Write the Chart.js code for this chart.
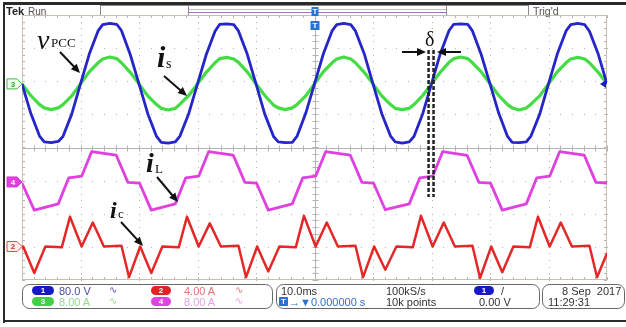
<!DOCTYPE html>
<html>
<head>
<meta charset="utf-8">
<script src="https://cdn.jsdelivr.net/npm/chart.js@4.4.0/dist/chart.umd.min.js"></script>
<style>
  body { margin: 0; background: #fff; }
  #wrap { position: relative; width: 626px; height: 327px; overflow: hidden; background: #fff; }
  #scope { position: absolute; left: 0; top: 0; }
  .t { position: absolute; white-space: nowrap; line-height: 1; }
  .ui { font-family: "Liberation Sans", Arial, sans-serif; font-size: 11px; color: #333; }
  .wave { font-family: "DejaVu Sans", sans-serif; font-size: 10px; }
  .ov { position: absolute; height: 9px; border-radius: 5px; color: #fff; text-align: center;
        font: bold 8px/9px "Liberation Sans", Arial, sans-serif; }
  .serif { font-family: "Liberation Serif", "Times New Roman", serif; color: #111; }
  .bi { font-style: italic; font-weight: bold; }
</style>
</head>
<body>
<div id="wrap">
  <canvas id="scope" width="626" height="327"></canvas>

  <!-- header -->
  <div class="t ui" style="left:6px;top:6px;font-weight:bold;font-size:11px;color:#222">Tek</div>
  <div class="t ui" style="left:28px;top:6.5px;font-size:10px;color:#555">Run</div>
  <div class="t ui" style="left:533px;top:6px;font-size:10.5px;color:#555">Trig'd</div>

  <!-- annotations -->
  <div class="t serif" style="left:37px;top:26px;font-size:28px;font-style:italic">v</div>
  <div class="t serif" style="left:51px;top:36px;font-size:13px">PCC</div>
  <div class="t serif bi" style="left:157px;top:42px;font-size:30px">i</div>
  <div class="t serif" style="left:166px;top:57px;font-size:14px">s</div>
  <div class="t serif bi" style="left:146px;top:149px;font-size:28px">i</div>
  <div class="t serif" style="left:155px;top:162px;font-size:13px">L</div>
  <div class="t serif bi" style="left:110px;top:198px;font-size:24px">i</div>
  <div class="t serif" style="left:118px;top:207px;font-size:13px">c</div>
  <div class="t serif" style="left:425px;top:29px;font-size:20px">δ</div>

  <!-- footer: channel settings -->
  <div class="ov" style="left:32px;top:286px;width:22px;background:#1818c4">1</div>
  <div class="t ui" style="left:59px;top:285.5px;color:#4a4ab0">80.0 V</div>
  <div class="t wave" style="left:109px;top:285px;color:#4a4ab0">∿</div>
  <div class="ov" style="left:151px;top:286px;width:20px;background:#e02424">2</div>
  <div class="t ui" style="left:184px;top:285.5px;color:#e07474">4.00 A</div>
  <div class="t wave" style="left:235px;top:285px;color:#e07474">∿</div>
  <div class="ov" style="left:32px;top:297px;width:22px;background:#44d044">3</div>
  <div class="t ui" style="left:59px;top:296.5px;color:#94d894">8.00 A</div>
  <div class="t wave" style="left:109px;top:296px;color:#94d894">∿</div>
  <div class="ov" style="left:151px;top:297px;width:20px;background:#e044e0">4</div>
  <div class="t ui" style="left:184px;top:296.5px;color:#e0a4e0">8.00 A</div>
  <div class="t wave" style="left:235px;top:296px;color:#e0a4e0">∿</div>

  <!-- footer: timebase / trigger -->
  <div class="t ui" style="left:281px;top:285.5px">10.0ms</div>
  <div class="t ui" style="left:386px;top:285.5px">100kS/s</div>
  <div class="ov" style="left:474px;top:286px;width:20px;background:#1818c4">1</div>
  <div class="t ui" style="left:501px;top:285.5px">/</div>
  <div class="ov" style="left:279px;top:297px;width:9px;border-radius:1px;background:#2a72d0">T</div>
  <div class="t ui" style="left:289px;top:296.5px;color:#2a72d0">→▼0.000000 s</div>
  <div class="t ui" style="left:386px;top:296.5px">10k points</div>
  <div class="t ui" style="left:479px;top:296.5px">0.00 V</div>

  <!-- footer: date -->
  <div class="t ui" style="left:562px;top:285.5px">8 Sep&nbsp; 2017</div>
  <div class="t ui" style="left:548px;top:296.5px">11:29:31</div>
</div>

<script>
// time axis, ms (10 ms/div, trigger at centre)
const timeMs = [
  -50,-48.5,-47,-46.2,-45,-43.8,-43,-41.5,
  -40,-38.5,-37,-36.2,-35,-33.8,-33,-31.5,
  -30,-28.5,-27,-26.2,-25,-23.8,-23,-21.5,
  -20,-18.5,-17,-16.2,-15,-13.8,-13,-11.5,
  -10,-8.5,-7,-6.2,-5,-3.8,-3,-1.5,
  0,1.5,3,3.8,5,6.2,7,8.5,
  10,11.5,13,13.8,15,16.2,17,18.5,
  20,21.5,23,23.8,25,26.2,27,28.5,
  30,31.5,33,33.8,35,36.2,37,38.5,
  40,41.5,43,43.8,45,46.2,47,48.5,
  50];

// CH1 v_PCC, volts
const vPcc = [
  0,-71,-126,-140,-142,-139,-127,-73,
  0,72,128,143,146,144,129,71,
  0,-72,-127,-141,-143,-140,-126,-72,
  0,71,127,144,145,143,128,72,
  0,-73,-127,-140,-142,-141,-127,-71,
  0,72,128,143,146,143,128,73,
  0,-72,-126,-140,-143,-140,-127,-72,
  0,73,129,144,145,144,128,71,
  0,-71,-127,-141,-142,-140,-126,-73,
  0,72,128,143,146,143,127,72,
  0];

// CH3 i_s, amps
const iS = [
  0,-2.8,-5.0,-5.8,-6.2,-5.8,-5.0,-2.9,
  0,2.9,5.1,6.0,6.5,6.1,5.1,2.8,
  0,-2.9,-5.0,-5.9,-6.3,-5.9,-4.9,-2.8,
  0,2.8,5.1,6.1,6.4,6.0,5.2,2.9,
  0,-2.8,-5.1,-5.8,-6.2,-5.8,-5.0,-2.9,
  0,2.9,5.1,6.0,6.5,6.0,5.1,2.8,
  0,-2.9,-5.0,-5.9,-6.2,-5.9,-5.0,-2.8,
  0,2.8,5.2,6.1,6.5,6.1,5.1,2.9,
  0,-2.8,-5.0,-5.8,-6.3,-5.8,-4.9,-2.9,
  0,2.9,5.1,6.0,6.4,6.0,5.1,2.8,
  0];

// CH4 i_L, amps
const iLTime = [
  -50,-47.9,-43.8,-42.0,-39.8,-38.1,-33.9,-31.9,-29.9,
  -27.9,-23.8,-22.0,-19.8,-18.1,-13.9,-11.9,-9.9,
  -7.9,-3.8,-2.0,0.2,1.9,6.1,8.1,10.1,
  12.1,16.2,18.0,20.2,21.9,26.1,28.1,30.1,
  32.1,36.2,38.0,40.2,41.9,46.1,48.1,50];
const iL = [
  -0.3,-6.8,-5.3,1.0,1.4,7.3,6.5,-0.1,-0.3,
  -6.8,-5.3,1.0,1.4,7.3,6.5,-0.1,-0.3,
  -6.8,-5.3,1.0,1.4,7.3,6.5,-0.1,-0.3,
  -6.7,-5.3,1.0,1.4,7.3,6.4,-0.1,-0.3,
  -6.8,-5.3,1.0,1.4,7.3,6.5,-0.1,-0.25];

// CH2 i_c, amps
const iCTime = [
  -50,-49.8,-47.9,-46.0,-43.2,-41.8,-39.8,-37.9,-36.0,-33.0,-31.7,-29.8,-27.9,
  -26.0,-23.2,-21.8,-19.8,-17.9,-16.0,-13.0,-11.7,-9.8,-7.9,
  -6.0,-3.2,-1.8,0.2,2.1,4.0,7.0,8.3,10.2,12.1,
  14.0,16.8,18.2,20.2,22.1,24.0,27.0,28.3,30.2,32.1,
  34.0,36.8,38.2,40.2,42.1,44.0,47.0,48.3,50];
const iC = [
  -0.3,0.0,-3.2,0.0,-0.1,3.6,0.0,2.9,0.0,0.1,-3.7,0.0,-3.2,
  0.0,-0.1,3.6,0.0,2.8,0.0,0.1,-3.7,0.0,-3.0,
  0.0,-0.1,3.7,0.0,2.9,0.0,0.1,-3.7,0.0,-2.8,
  0.0,-0.1,3.7,0.0,2.9,0.0,0.1,-3.8,0.0,-3.1,
  0.0,-0.1,3.6,0.0,2.9,0.0,0.1,-3.7,-0.8];

// scope settings: scale per division and trace position (divisions)
const CH1_V_DIV = 80, CH2_A_DIV = 4, CH3_A_DIV = 8, CH4_A_DIV = 8;
const CH1_POS = 1.92, CH2_POS = -2.99, CH3_POS = 1.92, CH4_POS = -1.04;
// dashed delta markers, ms
const deltaEdgesMs = [19.5, 20.35];

const toPts = (times, vals, perDiv, pos) => times.map((t, i) => ({ x: t, y: vals[i] / perDiv + pos }));

function arrow(ctx, x1, y1, x2, y2) {
  const a = Math.atan2(y2 - y1, x2 - x1), h = 9, w = 4;
  ctx.beginPath();
  ctx.moveTo(x1, y1);
  ctx.lineTo(x2 - Math.cos(a) * h * 0.8, y2 - Math.sin(a) * h * 0.8);
  ctx.stroke();
  ctx.beginPath();
  ctx.moveTo(x2, y2);
  ctx.lineTo(x2 - h * Math.cos(a) + w * Math.sin(a), y2 - h * Math.sin(a) - w * Math.cos(a));
  ctx.lineTo(x2 - h * Math.cos(a) - w * Math.sin(a), y2 - h * Math.sin(a) + w * Math.cos(a));
  ctx.closePath();
  ctx.fill();
}

function marker(ctx, y, label, stroke, fill, text) {
  ctx.beginPath();
  ctx.moveTo(7, y - 5); ctx.lineTo(17, y - 5); ctx.lineTo(22, y);
  ctx.lineTo(17, y + 5); ctx.lineTo(7, y + 5); ctx.closePath();
  ctx.fillStyle = fill; ctx.fill();
  ctx.strokeStyle = stroke; ctx.lineWidth = 1; ctx.stroke();
  ctx.fillStyle = text;
  ctx.font = 'bold 8px "Liberation Sans", Arial';
  ctx.textAlign = 'center'; ctx.textBaseline = 'middle';
  ctx.fillText(label, 13, y + 0.5);
}

const scopeChrome = {
  id: 'scopeChrome',
  beforeDatasetsDraw(chart) {
    const { ctx, chartArea: a, scales: { x, y } } = chart;
    ctx.save();
    // frame of the whole screen
    ctx.fillStyle = '#2a2a2a';
    ctx.fillRect(3, 2, 623, 3);
    ctx.fillRect(3, 2, 2, 321);
    ctx.fillRect(3, 320, 623, 2);
    // record view bar
    ctx.strokeStyle = '#8a8a8a'; ctx.lineWidth = 1;
    ctx.strokeRect(100.5, 5.5, 428, 10);
    ctx.beginPath(); ctx.moveTo(188.5, 5); ctx.lineTo(188.5, 16); ctx.moveTo(446.5, 5); ctx.lineTo(446.5, 16); ctx.stroke();
    ctx.strokeStyle = '#eaa6ea'; ctx.beginPath(); ctx.moveTo(189, 9.5); ctx.lineTo(446, 9.5); ctx.stroke();
    ctx.strokeStyle = '#9c74c4'; ctx.beginPath(); ctx.moveTo(189, 12.5); ctx.lineTo(446, 12.5); ctx.stroke();

    // graticule dots
    ctx.fillStyle = '#b2b2b2';
    for (let tv = -40; tv <= 40; tv += 10) {
      if (tv === 0) continue;
      const px = Math.round(x.getPixelForValue(tv));
      for (let dv = -4; dv <= 4.001; dv += 0.2) ctx.fillRect(px, Math.round(y.getPixelForValue(dv)), 1, 1);
    }
    for (let dv = -3; dv <= 3; dv += 1) {
      if (dv === 0) continue;
      const py = Math.round(y.getPixelForValue(dv));
      for (let tv = -50; tv <= 50.001; tv += 2) ctx.fillRect(Math.round(x.getPixelForValue(tv)), py, 1, 1);
    }
    // centre lines with minor ticks
    const cx = Math.round(x.getPixelForValue(0)) + 0.5, cy = Math.round(y.getPixelForValue(0)) + 0.5;
    ctx.strokeStyle = '#b4b4b4'; ctx.lineWidth = 1;
    ctx.beginPath();
    ctx.moveTo(cx, a.top); ctx.lineTo(cx, a.bottom);
    ctx.moveTo(a.left, cy); ctx.lineTo(a.right, cy);
    for (let dv = -4; dv <= 4.001; dv += 0.2) {
      const py = Math.round(y.getPixelForValue(dv)) + 0.5;
      ctx.moveTo(cx - 3, py); ctx.lineTo(cx + 3, py);
      ctx.moveTo(a.left, py); ctx.lineTo(a.left + 3, py);
      ctx.moveTo(a.right - 3, py); ctx.lineTo(a.right, py);
    }
    for (let tv = -50; tv <= 50.001; tv += 2) {
      const px = Math.round(x.getPixelForValue(tv)) + 0.5;
      ctx.moveTo(px, cy - 3); ctx.lineTo(px, cy + 3);
      ctx.moveTo(px, a.top); ctx.lineTo(px, a.top + 3);
      ctx.moveTo(px, a.bottom - 3); ctx.lineTo(px, a.bottom);
    }
    ctx.stroke();
    // graticule border
    ctx.strokeStyle = '#cbbfa8';
    ctx.strokeRect(a.left + 0.5, a.top + 0.5, a.right - a.left - 1, a.bottom - a.top - 1);
    ctx.restore();
  },
  afterDatasetsDraw(chart) {
    const { ctx, scales: { x, y } } = chart;
    ctx.save();
    // channel ground markers
    marker(ctx, y.getPixelForValue(CH3_POS), '3', '#3cc03c', '#effff0', '#2caa2c');
    marker(ctx, y.getPixelForValue(CH4_POS), '4', '#d838d8', '#e040e0', '#fff');
    marker(ctx, y.getPixelForValue(CH2_POS), '2', '#dd4a4a', '#fff0f0', '#d03030');
    // trigger level marker
    const ty = y.getPixelForValue(CH1_POS);
    ctx.fillStyle = '#1a1ac8';
    ctx.beginPath(); ctx.moveTo(600, ty); ctx.lineTo(606, ty - 4); ctx.lineTo(606, ty + 4); ctx.closePath(); ctx.fill();
    // trigger position markers
    const tx = x.getPixelForValue(0);
    ctx.fillStyle = '#2a72d0';
    ctx.fillRect(tx - 3, 7, 7, 9);
    ctx.fillRect(tx - 4, 21, 9, 9);
    ctx.fillStyle = '#fff';
    ctx.font = 'bold 8px "Liberation Sans", Arial';
    ctx.textAlign = 'center'; ctx.textBaseline = 'middle';
    ctx.fillText('T', tx + 0.5, 11.5);
    ctx.fillText('T', tx + 0.5, 26);

    // delta dashed lines
    ctx.strokeStyle = '#222'; ctx.lineWidth = 2.5; ctx.setLineDash([4, 2]);
    deltaEdgesMs.forEach(t => {
      const px = x.getPixelForValue(t);
      ctx.beginPath(); ctx.moveTo(px, 50); ctx.lineTo(px, 197); ctx.stroke();
    });
    ctx.setLineDash([]);
    // annotation arrows
    ctx.strokeStyle = '#111'; ctx.fillStyle = '#111'; ctx.lineWidth = 2;
    arrow(ctx, 60, 52, 80, 73);
    arrow(ctx, 164, 76, 187, 96);
    arrow(ctx, 402, 52, 426, 52);
    arrow(ctx, 461, 52, 437, 52);
    arrow(ctx, 157, 177, 178, 202);
    arrow(ctx, 121, 222, 143, 246);

    // readout boxes
    ctx.strokeStyle = '#666'; ctx.lineWidth = 1;
    [[22.5, 250], [276.5, 263], [542.5, 82]].forEach(([bx, bw]) => {
      ctx.beginPath(); ctx.roundRect(bx, 284.5, bw, 24, 7); ctx.stroke();
    });
    ctx.restore();
  }
};

new Chart(document.getElementById('scope'), {
  type: 'scatter',
  data: {
    datasets: [
      { label: 'vPCC', data: toPts(timeMs, vPcc, CH1_V_DIV, CH1_POS), borderColor: '#2626c8', borderWidth: 2.8, order: 1 },
      { label: 'is', data: toPts(timeMs, iS, CH3_A_DIV, CH3_POS), borderColor: '#44dc44', borderWidth: 3.2, order: 2 },
      { label: 'iL', data: toPts(iLTime, iL, CH4_A_DIV, CH4_POS), borderColor: '#e040e0', borderWidth: 2.8, order: 3 },
      { label: 'ic', data: toPts(iCTime, iC, CH2_A_DIV, CH2_POS), borderColor: '#e42828', borderWidth: 2.5, order: 4 }
    ].map(d => Object.assign(d, { showLine: true, pointRadius: 0, borderJoinStyle: 'round', tension: 0 }))
  },
  options: {
    responsive: false,
    animation: false,
    devicePixelRatio: 1,
    layout: { padding: { left: 22, top: 15, right: 19, bottom: 47 } },
    plugins: { legend: { display: false }, tooltip: { enabled: false } },
    scales: {
      x: { type: 'linear', min: -50, max: 50, display: false },
      y: { type: 'linear', min: -4, max: 4, display: false }
    }
  },
  plugins: [scopeChrome]
});
</script>
</body>
</html>
